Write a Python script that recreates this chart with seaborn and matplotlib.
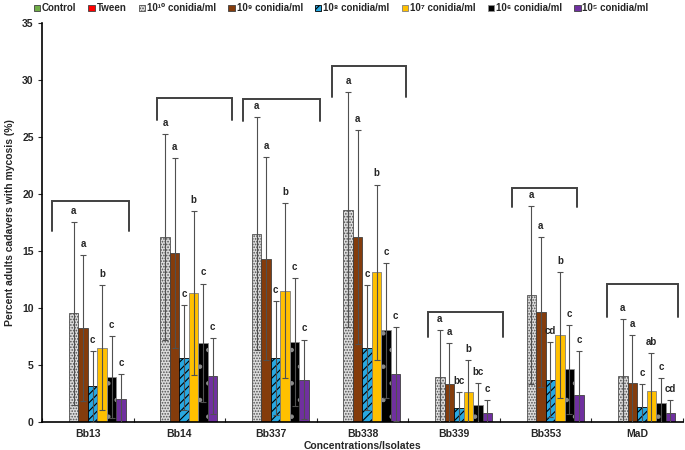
import matplotlib
matplotlib.use("Agg")
import matplotlib.pyplot as plt
import seaborn as sns
import pandas as pd
import numpy as np

# ---------------- data ----------------
isolates = ["Bb13", "Bb14", "Bb337", "Bb338", "Bb339", "Bb353", "MaD"]
series_names = ["Control", "Tween", "10¹⁰ conidia/ml", "10⁹ conidia/ml", "10⁸ conidia/ml",
                "10⁷ conidia/ml", "10⁶ conidia/ml", "10⁵ conidia/ml"]

control = [0, 0, 0, 0, 0, 0, 0]
tween = [0, 0, 0, 0, 0, 0, 0]
c1e10 = [9.5, 16.2, 16.5, 18.6, 3.9, 11.1, 4.0]
c1e9 = [8.2, 14.8, 14.3, 16.2, 3.3, 9.6, 3.4]
c1e8 = [3.1, 5.6, 5.6, 6.5, 1.2, 3.7, 1.3]
c1e7 = [6.5, 11.3, 11.5, 13.1, 2.6, 7.6, 2.7]
c1e6 = [3.9, 6.9, 7.0, 8.0, 1.5, 4.6, 1.6]
c1e5 = [2.0, 4.0, 3.7, 4.2, 0.8, 2.3, 0.8]

e_control = [0, 0, 0, 0, 0, 0, 0]
e_tween = [0, 0, 0, 0, 0, 0, 0]
e1e10 = [8.0, 9.0, 10.2, 10.3, 4.1, 7.8, 5.0]
e1e9 = [6.4, 8.3, 8.9, 9.4, 3.6, 6.6, 4.2]
e1e8 = [3.1, 4.6, 5.0, 5.5, 1.4, 3.3, 2.0]
e1e7 = [5.5, 7.2, 7.7, 7.7, 2.8, 5.5, 3.3]
e1e6 = [3.6, 5.2, 5.6, 5.9, 1.9, 3.9, 2.2]
e1e5 = [2.2, 3.3, 3.5, 4.1, 1.1, 3.9, 1.1]

l1e10 = ["a", "a", "a", "a", "a", "a", "a"]
l1e9 = ["a", "a", "a", "a", "a", "a", "a"]
l1e8 = ["c", "c", "c", "c", "bc", "cd", "c"]
l1e7 = ["b", "b", "b", "b", "b", "b", "ab"]
l1e6 = ["c", "c", "c", "c", "bc", "c", "c"]
l1e5 = ["c", "c", "c", "c", "c", "c", "cd"]

# brackets above each isolate group (left/right offset from category centre, top/bottom value)
br_left = [-0.39, -0.24, -0.31, -0.33, -0.28, -0.37, -0.33]
br_right = [0.45, 0.58, 0.54, 0.48, 0.54, 0.34, 0.45]
br_top = [19.4, 28.4, 28.3, 31.2, 9.65, 20.5, 12.1]
br_bot = [16.7, 26.5, 26.4, 28.5, 7.4, 18.8, 9.2]

values = [control, tween, c1e10, c1e9, c1e8, c1e7, c1e6, c1e5]
errors = [e_control, e_tween, e1e10, e1e9, e1e8, e1e7, e1e6, e1e5]
letters = [None, None, l1e10, l1e9, l1e8, l1e7, l1e6, l1e5]

rows = []
for s, vals in zip(series_names, values):
    for iso, v in zip(isolates, vals):
        rows.append({"Isolate": iso, "Series": s, "Value": v})
df = pd.DataFrame(rows)

# ---------------- style ----------------
sns.set_theme(style="ticks")
plt.rcParams["font.family"] = ["Liberation Sans", "DejaVu Sans"]
plt.rcParams["font.weight"] = "bold"
plt.rcParams["hatch.linewidth"] = 0.8

face = ["#70AD47", "#FF0000", "#DCDCDC", "#843C0C", "#29A8E0", "#FFC000", "#000000", "#7030A0"]
edge = ["#404040", "#404040", "#505050", "#404040", "#000000", "#7F7F7F", "#8C8C8C", "#404040"]
hatch = [None, None, "......", None, "////", None, ".", None]

fig = plt.figure(figsize=(6.85, 4.5), dpi=100)
ax = fig.add_axes([0.0613, 0.0629, 0.9357, 0.8867])

sns.barplot(data=df, x="Isolate", y="Value", hue="Series", order=isolates,
            hue_order=series_names, palette=face, width=0.83, errorbar=None,
            legend=False, ax=ax, saturation=1, linewidth=0.6)

bar_conts = list(ax.containers)
for ci, cont in enumerate(bar_conts):
    for p in cont.patches:
        p.set_edgecolor(edge[ci])
        p.set_linewidth(0.6)
        if hatch[ci]:
            p.set_hatch(hatch[ci])
    if ci < 2:
        continue
    xs = [p.get_x() + p.get_width() / 2 for p in cont.patches]
    hs = [p.get_height() for p in cont.patches]
    ax.errorbar(xs, hs, yerr=errors[ci], fmt="none", ecolor="#505050",
                elinewidth=0.8, capsize=2.2, capthick=0.8, zorder=5)
    for x, h, e, t in zip(xs, hs, errors[ci], letters[ci]):
        ax.annotate(t, (x, h + e), xytext=(0, 4.5), textcoords="offset points",
                    ha="center", va="bottom", fontsize=7, fontweight="bold")

for i in range(len(isolates)):
    ax.plot([i + br_left[i], i + br_left[i], i + br_right[i], i + br_right[i]],
            [br_bot[i], br_top[i], br_top[i], br_bot[i]],
            color="#404040", lw=1.4, solid_joinstyle="miter", zorder=4)

ax.set_ylim(0, 35)
ax.set_xlim(-0.5, len(isolates) - 0.5)
ax.set_yticks(np.arange(0, 36, 5))
ax.tick_params(axis="y", labelsize=7.5, length=3, width=0.8, direction="out", pad=3)
ax.tick_params(axis="x", labelsize=7.5, length=0, pad=5)
ax.set_xticks(np.arange(-0.5, len(isolates), 1.0), minor=True)
ax.tick_params(axis="x", which="minor", direction="in", length=3, width=0.8)
for lab in ax.get_xticklabels() + ax.get_yticklabels():
    lab.set_fontweight("bold")
sns.despine(ax=ax)
for sp in ["left", "bottom"]:
    ax.spines[sp].set_linewidth(1.2)
    ax.spines[sp].set_color("#000000")

ax.set_xlabel("Concentrations/Isolates", fontsize=7.5, fontweight="bold", labelpad=2)
ax.set_ylabel("Percent adults cadavers with mycosis (%)", fontsize=7.5, fontweight="bold", labelpad=5)

handles = [cont.patches[0] for cont in bar_conts]
fig.legend(handles, series_names, loc="upper center", bbox_to_anchor=(0.498, 1.012), ncol=8,
           frameon=False, handlelength=0.65, handleheight=0.65,
           handletextpad=0.2, columnspacing=1.25, prop={"weight": "bold", "size": 7})

fig.savefig("out.png", dpi=100)
